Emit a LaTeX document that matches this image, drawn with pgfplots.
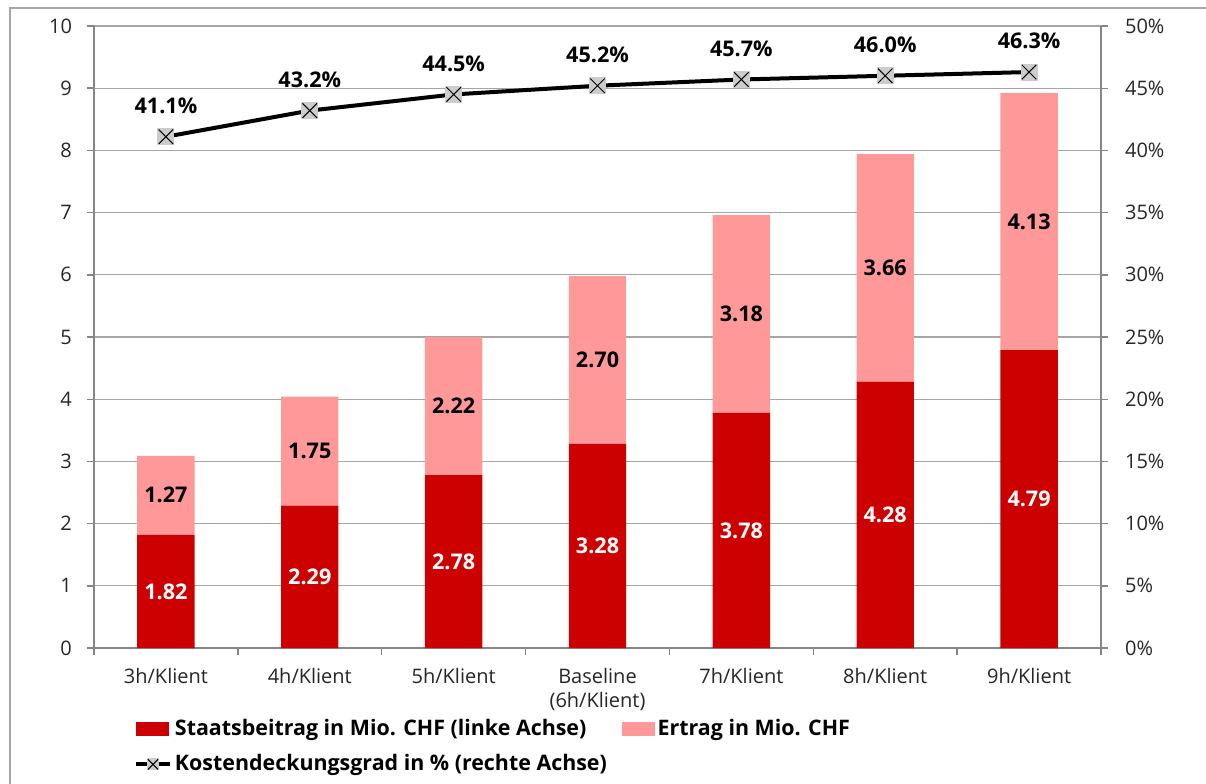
\documentclass[border=0pt]{standalone}
\usepackage{pgfplots}
\pgfplotsset{compat=1.18}
\usepackage{pgfplotstable}
\usepackage{fontspec}
\setmainfont{Open Sans}

\definecolor{staatred}{HTML}{CC0000}
\definecolor{ertragpink}{HTML}{FF9999}
\definecolor{axisgray}{HTML}{868686}
\definecolor{gridgray}{HTML}{A6A6A6}
\definecolor{markgray}{HTML}{CCCCCC}
\definecolor{framegray}{HTML}{A6A6A6}

% grey square with a black cross
\pgfdeclareplotmark{boxx}{%
  \pgfpathrectangle{\pgfqpoint{-\pgfplotmarksize}{-\pgfplotmarksize}}{\pgfqpoint{2\pgfplotmarksize}{2\pgfplotmarksize}}%
  \pgfsetfillcolor{markgray}%
  \pgfusepath{fill}%
  \pgfsetlinewidth{0.5pt}%
  \pgfsetstrokecolor{black}%
  \pgfpathmoveto{\pgfqpoint{-0.85\pgfplotmarksize}{-0.85\pgfplotmarksize}}%
  \pgfpathlineto{\pgfqpoint{0.85\pgfplotmarksize}{0.85\pgfplotmarksize}}%
  \pgfpathmoveto{\pgfqpoint{-0.85\pgfplotmarksize}{0.85\pgfplotmarksize}}%
  \pgfpathlineto{\pgfqpoint{0.85\pgfplotmarksize}{-0.85\pgfplotmarksize}}%
  \pgfusepath{stroke}%
}

\pgfplotstableread{
x staat ertrag kdg
0 1.82 1.27 41.1
1 2.29 1.75 43.2
2 2.78 2.22 44.5
3 3.28 2.70 45.2
4 3.78 3.18 45.7
5 4.28 3.66 46.0
6 4.79 4.13 46.3
}\kdata

\pgfplotsset{
  /pgf/number format/assume math mode=true,
  common/.style={
    scale only axis, width=503.5pt, height=311pt,
    xmin=-0.5, xmax=6.5,
    tick align=outside,
    major tick length=3.5pt,
    axis line style={draw=axisgray, line width=0.7pt},
    every tick/.style={draw=axisgray, line width=0.7pt},
    ticklabel style={font=\fontsize{10}{12}\selectfont, text=black!85},
  },
  barlegend/.style={legend image code/.code={\fill[##1] (0pt,-3.25pt) rectangle (16pt,3.25pt);}},
  linelegend/.style={legend image code/.code={%
    \draw[##1, line width=2pt] (0pt,0pt) -- (17pt,0pt);
    \draw[##1, mark size=3pt] plot coordinates {(8.5pt,0pt)};}},
}

\begin{document}
\begin{tikzpicture}
\useasboundingbox (-47pt,-67.5pt) rectangle (556pt,324pt);
\draw[framegray, line width=0.75pt] (-42pt,-90pt) -- (-42pt,320pt) -- (600pt,320pt);

\begin{axis}[common,
  ymin=0, ymax=10,
  ybar stacked, bar width=28.7pt,
  axis y line*=left, axis x line*=bottom,
  x axis line style={line width=1.1pt},
  xtick={0,...,6},
  xticklabels={3h/Klient, 4h/Klient, 5h/Klient, {Baseline\\(6h/Klient)}, 7h/Klient, 8h/Klient, 9h/Klient},
  xticklabel style={align=center, yshift=-3pt},
  major x tick style={draw=none},
  minor xtick={-0.5,0.5,...,6.5},
  minor tick length=3.5pt,
  minor x tick style={draw=axisgray, line width=0.7pt},
  ytick={0,...,10},
  yticklabel={\pgfmathprintnumber{\tick}},
  yticklabel style={xshift=-4pt},
  ymajorgrids,
  grid style={draw=gridgray, line width=0.6pt},
  nodes near coords style={anchor=center, font=\bfseries\fontsize{10.8}{12}\selectfont},
]
% segment labels sit centred in each stacked segment
\addplot[fill=staatred, draw=none,
  visualization depends on={\thisrow{staat} \as \segval},
  nodes near coords={\pgfmathprintnumber[fixed,fixed zerofill,precision=2]{\segval}},
  every node near coord/.append style={anchor=center, text=white}]
  table[x=x, y=staat] {\kdata};
\addplot[fill=ertragpink, draw=none,
  visualization depends on={\thisrow{ertrag} \as \segval},
  nodes near coords={\pgfmathprintnumber[fixed,fixed zerofill,precision=2]{\segval}},
  every node near coord/.append style={anchor=center, text=black}]
  table[x=x, y=ertrag] {\kdata};
\end{axis}

\begin{axis}[common,
  ymin=0, ymax=50,
  axis y line*=right, axis x line=none,
  ytick={0,5,...,50},
  yticklabel={\pgfmathprintnumber{\tick}\%},
  yticklabel style={xshift=5pt},
  legend columns=2,
  legend cell align=left,
  legend style={at={(axis description cs:0.0397,-0.110)}, anchor=north west,
    draw=none, fill=none, inner sep=0pt, outer sep=0pt,
    font=\bfseries\fontsize{10.7}{12.5}\selectfont,
    nodes={inner sep=1.5pt},
    /tikz/every even column/.append style={column sep=6pt},
    row sep=5pt},
]
\addlegendimage{barlegend, staatred}
\addlegendentry{Staatsbeitrag in Mio. CHF (linke Achse)}
\addlegendimage{barlegend, ertragpink}
\addlegendentry{Ertrag in Mio. CHF}
\addplot[black, line width=2pt, mark=boxx, mark size=4.25pt, linelegend,
  nodes near coords={\pgfmathprintnumber[fixed,fixed zerofill,precision=1]{\pgfplotspointmeta}\%},
  every node near coord/.append style={anchor=center, yshift=15.5pt, text=black, font=\bfseries\fontsize{10.8}{12}\selectfont}]
  table[x=x, y=kdg] {\kdata};
\addlegendentry{Kostendeckungsgrad in \% (rechte Achse)}
\end{axis}
\end{tikzpicture}
\end{document}
